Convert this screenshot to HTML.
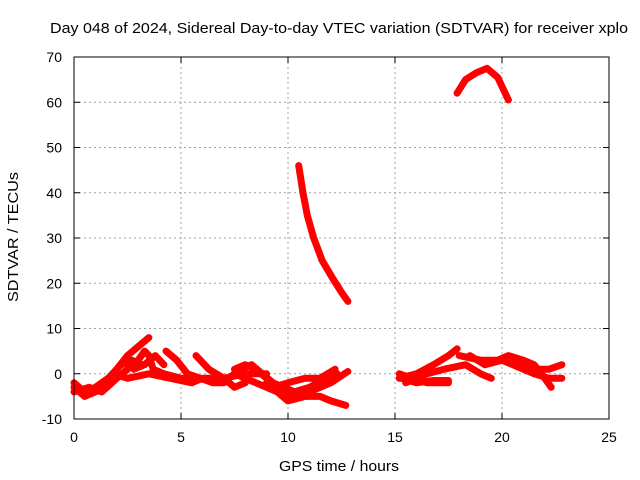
<!DOCTYPE html>
<html><head><meta charset="utf-8"><style>
body{margin:0;background:#fff}
svg{display:block;font-family:"Liberation Sans",sans-serif;font-size:14px}
</style></head><body>
<svg id="chart" width="640" height="480">
<text x="50" y="33" textLength="578" lengthAdjust="spacingAndGlyphs" style="font-size:15px">Day 048 of 2024, Sidereal Day-to-day VTEC variation (SDTVAR) for receiver xplo</text>
<text x="279" y="471" textLength="120" lengthAdjust="spacingAndGlyphs" style="font-size:15px">GPS time / hours</text>
<text transform="translate(18,302) rotate(-90)" textLength="130" lengthAdjust="spacingAndGlyphs" style="font-size:15px">SDTVAR / TECUs</text>
<g id="grid"></g><g id="ticks"></g><g id="series"></g>
<rect x="74" y="57" width="535" height="362" fill="none" stroke="#000"/>
</svg>
<script>
const xTicks=[0,5,10,15,20,25];
const yTicks=[-10,0,10,20,30,40,50,60,70];
const seriesX=[
[10.5,10.7,10.9,11.2,11.6,12.1,12.5,12.8],
[17.9,18.3,18.8,19.3,19.8,20.3],
[0,0.5,1,1.5,2,2.5,3,3.5],
[0,0.7,1.3,2,2.5,3,3.3,3.5,3.7,4.2,5,5.5],
[4.3,4.8,5.3,5.9,6.5,7],
[1.8,2.5,3.5,4.5,5.5,6,7,8,9],
[5.7,6.3,7,7.5,8],
[7.2,7.8,8.3,8.8,9.3,9.8,10.3,11,11.8,12.3],
[7.5,8.5,9.5,10,10.8,11.5,12,12.7],
[9,9.8,10.4,11,12,12.8],
[9.3,10,10.8,11.5,12.2],
[0,0.5,1,1.6,2.2,2.7,3.2],
[2.8,3.3,3.8,4.2],
[7.5,8,8.5,9,9.5,10],
[15.2,15.8,16.5,17.5],
[15.2,16,16.8,17.5,17.9],
[15.5,16.5,17.3,18.3,19,19.5],
[18,19,19.8,20.3,21,21.5,22,22.3],
[18.5,19.2,20,20.5,21.5,22.2,22.8],
[20.6,21.5,22.2,22.8],
[15.3,16,16.8,17.5]];
const seriesY=[
[46,40,35,30,25,21,18,16],
[62,65,66.5,67.5,65.5,60.5],
[-3,-5,-4,-2,1,4,6,8],
[-4,-3,-4,-1,1,3,5,4,1,0,-1,-1],
[5,3,0,-1,-2,-2],
[0,-1,0,-1,-2,-1,-1,0,0],
[4,1,-1,-3,-2],
[-1,1,2,0,-2,-3,-4,-3,-1,0],
[0,-2,-4,-6,-5,-5,-6,-7],
[-2,-4,-5,-4,-2,0.5],
[-3,-2,-1,-1,1],
[-2,-4,-3,-1,2,3,2],
[1,2,4,2],
[1,2,1,-1,-3,-4],
[0,-1,-2,-2],
[-1,0,2,4,5.5],
[-2,0,1,2,0,-1],
[4,3,3,4,3,2,-1,-3],
[4,2,3,2,0,-1,-1],
[3,1,1,2],
[-1,-2,-1.5,-1.5]];
const X0=74,X1=609,Y0=419,Y1=57;
const sx=v=>X0+(v-0)/25*(X1-X0);
const sy=v=>Y0-(v+10)/80*(Y0-Y1);
const NS="http://www.w3.org/2000/svg";
const grid=document.getElementById('grid'),ticks=document.getElementById('ticks'),ser=document.getElementById('series');
function mk(tag,attrs,parent){const e=document.createElementNS(NS,tag);for(const k in attrs)e.setAttribute(k,attrs[k]);parent.appendChild(e);return e;}
xTicks.forEach(t=>{const x=sx(t);
 if(t>0&&t<25){const g=mk('line',{x1:x,x2:x,y1:Y1,y2:Y0,stroke:'#a0a0a0','stroke-dasharray':'2,3'},grid);
 
 }
 mk('line',{x1:x,x2:x,y1:Y0,y2:Y0-6,stroke:'#000'},ticks);mk('line',{x1:x,x2:x,y1:Y1,y2:Y1+6,stroke:'#000'},ticks);
 const l=mk('text',{x:x,y:442,'text-anchor':'middle'},ticks);l.textContent=t;
 
 });
yTicks.forEach(t=>{const y=sy(t);
 if(t>-10&&t<70){const g=mk('line',{x1:X0,x2:X1,y1:y,y2:y,stroke:'#a0a0a0','stroke-dasharray':'2,3'},grid);
 
 }
 mk('line',{x1:X0,x2:X0+6,y1:y,y2:y,stroke:'#000'},ticks);mk('line',{x1:X1,x2:X1-6,y1:y,y2:y,stroke:'#000'},ticks);
 const l=mk('text',{x:62,y:y+5,'text-anchor':'end'},ticks);l.textContent=t;
 
 });
seriesX.forEach((xs,i)=>{const ys=seriesY[i];
 const pts=xs.map((v,j)=>sx(v).toFixed(1)+','+sy(ys[j]).toFixed(1)).join(' ');
 const p=mk('polyline',{points:pts,fill:'none',stroke:'#ff0000','stroke-width':7,'stroke-linejoin':'round','stroke-linecap':'round'},ser);
 
 });
</script>
</body></html>
